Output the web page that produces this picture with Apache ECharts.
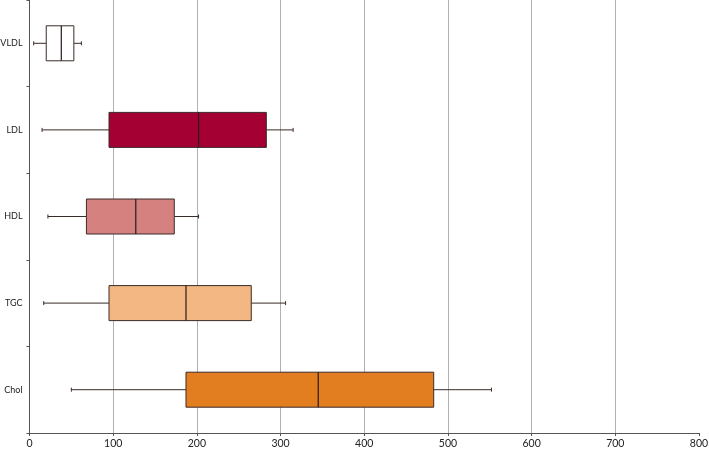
<!DOCTYPE html>
<html>
<head>
<meta charset="utf-8">
<script src="https://cdn.jsdelivr.net/npm/echarts@6/dist/echarts.min.js"></script>
<style>html,body{margin:0;padding:0;background:#fff}#c{width:709px;height:450px}</style>
</head>
<body>
<div id="c"></div>
<script>
const categories = ['Chol', 'TGC', 'HDL', 'LDL', 'VLDL'];
const mins    = [50, 17, 22, 15, 5];
const q1s     = [187, 95, 68, 95, 20];
const medians = [345, 187, 127, 202, 38];
const q3s     = [483, 265, 173, 283, 53];
const maxs    = [552, 306, 202, 315, 62];
const colors  = ['#E37E20', '#F2B783', '#D4817F', '#A50034', '#FFFFFF'];
const xTicks  = [0, 100, 200, 300, 400, 500, 600, 700, 800];

const data = categories.map((c, i) => ({
  value: [i, mins[i], q1s[i], medians[i], q3s[i], maxs[i]],
  itemStyle: { color: colors[i] }
}));

const chart = echarts.init(document.getElementById('c'), null, { renderer: 'canvas' });
const edge = '#3a2c28';
chart.setOption({
  animation: false,
  backgroundColor: '#fff',
  grid: { left: 29.5, right: 10, top: 0, bottom: 17, containLabel: false, outerBoundsMode: 'none' },
  xAxis: {
    type: 'value', min: xTicks[0], max: xTicks[xTicks.length - 1], interval: 100,
    axisLine: { show: true, lineStyle: { color: '#555', width: 1 } },
    axisTick: { show: true, length: 3, lineStyle: { color: '#555' } },
    axisLabel: { color: '#222', fontSize: 10.5, fontFamily: 'Lato', margin: 5 },
    splitLine: { show: true, lineStyle: { color: ['transparent', '#b0b0b0', '#b0b0b0', '#b0b0b0', '#b0b0b0', '#b0b0b0', '#b0b0b0', '#b0b0b0', 'transparent'], width: 1 } }
  },
  yAxis: {
    type: 'category', data: categories, boundaryGap: true,
    axisLine: { show: true, lineStyle: { color: '#555', width: 1 } },
    axisTick: { show: true, length: 3, inside: false, lineStyle: { color: '#555' } },
    axisLabel: { color: '#222', fontSize: 9, fontFamily: 'Lato', margin: 7 },
    splitLine: { show: false }
  },
  series: [{
    type: 'custom',
    data: data,
    renderItem: function (params, api) {
      const ci = api.value(0);
      const pMin = api.coord([api.value(1), ci]);
      const pQ1 = api.coord([api.value(2), ci]);
      const pMed = api.coord([api.value(3), ci]);
      const pQ3 = api.coord([api.value(4), ci]);
      const pMax = api.coord([api.value(5), ci]);
      const y = pMin[1];
      const h = 35;
      const cap = 2;
      const fill = api.visual('color');
      const ls = { stroke: edge, lineWidth: 1, fill: null };
      return {
        type: 'group',
        children: [
          { type: 'line', shape: { x1: pMin[0], y1: y, x2: pQ1[0], y2: y }, style: ls },
          { type: 'line', shape: { x1: pQ3[0], y1: y, x2: pMax[0], y2: y }, style: ls },
          { type: 'line', shape: { x1: pMin[0], y1: y - cap, x2: pMin[0], y2: y + cap }, style: ls },
          { type: 'line', shape: { x1: pMax[0], y1: y - cap, x2: pMax[0], y2: y + cap }, style: ls },
          { type: 'rect', shape: { x: pQ1[0], y: y - h / 2, width: pQ3[0] - pQ1[0], height: h }, style: { fill: fill, stroke: edge, lineWidth: 1 } },
          { type: 'line', shape: { x1: pMed[0], y1: y - h / 2, x2: pMed[0], y2: y + h / 2 }, style: { stroke: '#2a1a18', lineWidth: 1.2, fill: null } }
        ]
      };
    }
  }]
});
</script>
</body>
</html>
